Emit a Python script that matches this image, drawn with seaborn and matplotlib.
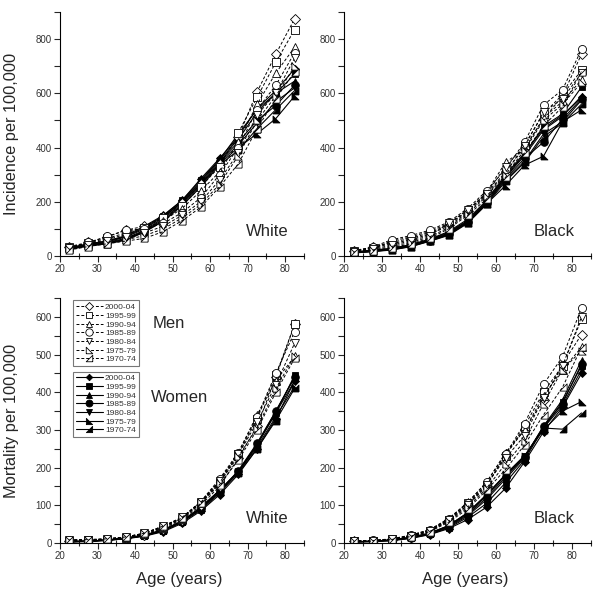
import matplotlib
matplotlib.use("Agg")
import matplotlib.pyplot as plt
from matplotlib.lines import Line2D
from matplotlib.ticker import MultipleLocator
import seaborn as sns
import pandas as pd

ages = [22.5, 27.5, 32.5, 37.5, 42.5, 47.5, 52.5, 57.5, 62.5, 67.5, 72.5, 77.5, 82.5]
periods = ["2000-04", "1995-99", "1990-94", "1985-89", "1980-84", "1975-79", "1970-74"]

# White incidence
white_inc_men = [
    [35, 50, 70, 95, 110, 145, 195, 265, 340, 440, 605, 745, 875],
    [33, 48, 65, 85, 105, 140, 185, 255, 330, 455, 585, 715, 835],
    [32, 45, 60, 80, 100, 130, 175, 240, 310, 420, 560, 675, 770],
    [30, 50, 72, 95, 100, 120, 160, 215, 300, 400, 540, 630, 750],
    [28, 42, 55, 70, 85, 110, 150, 200, 280, 380, 520, 600, 730],
    [25, 38, 50, 60, 75, 100, 140, 190, 265, 370, 500, 590, 700],
    [22, 35, 45, 55, 65, 90, 130, 180, 255, 340, 470, 580, 680],
]
white_inc_women = [
    [30, 45, 55, 75, 110, 150, 205, 285, 360, 440, 545, 610, 690],
    [30, 44, 55, 72, 105, 148, 205, 280, 355, 450, 540, 600, 670],
    [28, 42, 52, 70, 100, 145, 200, 275, 355, 430, 530, 600, 645],
    [28, 40, 50, 65, 95, 140, 200, 270, 350, 420, 500, 555, 630],
    [27, 40, 48, 62, 92, 135, 195, 265, 345, 410, 490, 570, 620],
    [26, 38, 46, 60, 90, 130, 190, 260, 340, 400, 451, 507, 590],
    [25, 36, 45, 58, 88, 128, 185, 255, 335, 390, 470, 540, 610],
]
# Black incidence
black_inc_men = [
    [20, 32, 50, 65, 85, 115, 165, 230, 310, 400, 505, 590, 745],
    [18, 30, 45, 60, 80, 110, 160, 225, 305, 410, 525, 595, 685],
    [17, 28, 55, 70, 90, 120, 165, 235, 345, 395, 510, 570, 650],
    [18, 33, 60, 75, 95, 125, 175, 240, 320, 420, 557, 613, 762],
    [15, 25, 40, 55, 75, 120, 170, 230, 330, 405, 530, 580, 675],
    [14, 22, 35, 50, 70, 105, 155, 220, 300, 390, 500, 560, 640],
    [13, 20, 30, 45, 65, 100, 150, 210, 290, 380, 480, 550, 680],
]
black_inc_women = [
    [15, 22, 28, 42, 62, 90, 135, 205, 300, 380, 470, 520, 585],
    [14, 20, 27, 40, 60, 88, 130, 200, 295, 375, 478, 524, 623],
    [13, 19, 26, 38, 58, 85, 128, 198, 290, 370, 465, 515, 590],
    [13, 18, 25, 37, 57, 82, 125, 195, 285, 360, 420, 505, 580],
    [12, 17, 24, 36, 56, 80, 125, 195, 280, 350, 450, 495, 575],
    [12, 17, 23, 35, 55, 78, 122, 192, 260, 335, 368, 495, 539],
    [11, 16, 22, 34, 54, 76, 120, 190, 275, 345, 440, 490, 560],
]
# White mortality
white_mort_men = [
    [5, 6, 8, 13, 22, 38, 62, 100, 150, 225, 310, 440, 580],
    [6, 7, 9, 14, 23, 40, 64, 105, 160, 235, 330, 445, 580],
    [7, 8, 10, 15, 25, 42, 66, 108, 165, 240, 340, 430, 495],
    [7, 8, 10, 15, 25, 43, 67, 110, 170, 240, 335, 450, 560],
    [8, 8, 11, 16, 26, 44, 68, 110, 165, 235, 320, 420, 530],
    [8, 9, 11, 16, 26, 45, 68, 108, 160, 230, 305, 410, 497],
    [8, 9, 11, 16, 26, 45, 66, 105, 155, 220, 300, 400, 490],
]
white_mort_women = [
    [3, 4, 7, 11, 18, 30, 52, 85, 128, 182, 250, 330, 430],
    [3, 4, 7, 12, 19, 32, 55, 88, 132, 188, 260, 345, 445],
    [3, 5, 7, 12, 19, 33, 56, 90, 135, 190, 262, 350, 440],
    [3, 5, 8, 12, 20, 34, 57, 92, 138, 192, 265, 350, 440],
    [4, 5, 8, 13, 20, 34, 58, 93, 140, 190, 262, 345, 430],
    [4, 5, 8, 13, 21, 35, 58, 95, 140, 188, 255, 335, 415],
    [4, 5, 8, 13, 21, 35, 58, 95, 138, 185, 250, 325, 410],
]
# Black mortality
black_mort_men = [
    [5, 6, 9, 18, 32, 60, 100, 150, 235, 300, 380, 475, 553],
    [5, 6, 10, 19, 33, 62, 105, 155, 230, 310, 400, 470, 594],
    [5, 6, 10, 20, 35, 63, 108, 160, 240, 300, 390, 460, 519],
    [5, 7, 11, 21, 35, 65, 106, 162, 235, 317, 421, 494, 623],
    [4, 6, 10, 19, 33, 60, 100, 155, 225, 285, 385, 470, 600],
    [4, 6, 9, 18, 30, 58, 95, 145, 210, 270, 370, 460, 510],
    [4, 5, 9, 17, 30, 55, 90, 140, 195, 260, 340, 413, 519],
]
black_mort_women = [
    [3, 4, 6, 12, 22, 38, 62, 95, 145, 215, 295, 360, 450],
    [3, 4, 7, 13, 23, 40, 68, 105, 160, 220, 305, 375, 470],
    [3, 4, 7, 13, 24, 42, 72, 115, 170, 225, 310, 380, 485],
    [3, 4, 7, 14, 25, 44, 75, 120, 175, 228, 310, 370, 475],
    [3, 5, 8, 14, 25, 45, 78, 125, 180, 230, 305, 365, 460],
    [3, 5, 8, 15, 26, 46, 80, 128, 182, 232, 300, 350, 375],
    [3, 5, 8, 15, 26, 46, 80, 128, 180, 230, 305, 302, 345],
]

sns.set_style("ticks")
plt.rcParams["font.family"] = ["Liberation Sans", "DejaVu Sans"]

tri_bl = [(-1, -1), (-1, 1), (1, -1), (-1, -1)]
tri_br = [(1, -1), (1, 1), (-1, -1), (1, -1)]
markers = ["D", "s", "^", "o", "v", tri_bl, tri_br]
msizes_men = [4.8, 5.2, 5.2, 5.8, 5.2, 5.2, 5.2]
msizes_women = [3.8, 5, 5, 5.5, 5, 5, 5]

fig = plt.figure(figsize=(6.0, 5.9), dpi=100)
W, H = 600, 590
def add_ax(x0, x1, ytop, ybot):
    return fig.add_axes([x0 / W, (H - ybot) / H, (x1 - x0) / W, (ybot - ytop) / H])

ax_tl = add_ax(60, 304, 12, 256)
ax_tr = add_ax(344, 591, 12, 256)
ax_bl = add_ax(60, 304, 298, 543)
ax_br = add_ax(344, 591, 298, 543)

panels = [
    (ax_tl, white_inc_men, white_inc_women, 900, 200, 100, "White"),
    (ax_tr, black_inc_men, black_inc_women, 900, 200, 100, "Black"),
    (ax_bl, white_mort_men, white_mort_women, 650, 100, 50, "White"),
    (ax_br, black_mort_men, black_mort_women, 650, 100, 50, "Black"),
]

for ax, men, women, ymax, ymaj, ymin_, race in panels:
    for i, p in enumerate(periods):
        df = pd.DataFrame({"age": ages, "rate": women[i]})
        sns.lineplot(data=df, x="age", y="rate", ax=ax, color="black", lw=0.8,
                     marker=markers[i], markersize=msizes_women[i],
                     markerfacecolor="black", markeredgecolor="black",
                     markeredgewidth=0.6, linestyle="-")
    for i, p in enumerate(periods):
        df = pd.DataFrame({"age": ages, "rate": men[i]})
        sns.lineplot(data=df, x="age", y="rate", ax=ax, color="black", lw=0.7,
                     marker=markers[i], markersize=msizes_men[i],
                     markerfacecolor="white", markeredgecolor="black",
                     markeredgewidth=0.6, linestyle=(0, (3, 2)))
    ax.set_xlim(20, 85)
    ax.set_ylim(0, ymax)
    ax.xaxis.set_major_locator(MultipleLocator(10))
    ax.xaxis.set_minor_locator(MultipleLocator(5))
    ax.yaxis.set_major_locator(MultipleLocator(ymaj))
    ax.yaxis.set_minor_locator(MultipleLocator(ymin_))
    ax.tick_params(axis="both", which="major", labelsize=7, length=4, width=0.8,
                   direction="out", labelcolor="#333333", pad=2)
    ax.tick_params(axis="x", which="minor", length=5, width=0.8, direction="inout")
    ax.tick_params(axis="y", which="minor", length=4, width=0.8, direction="out")
    sns.despine(ax=ax)
    for s in ("left", "bottom"):
        ax.spines[s].set_linewidth(0.8)
        ax.spines[s].set_color("black")
    ax.set_xlabel("")
    ax.set_ylabel("")
    ax.text(0.85, 0.10, race, transform=ax.transAxes, ha="center", va="center",
            fontsize=12)

ax_tl.set_ylabel("Incidence per 100,000", fontsize=11.8)
ax_tl.yaxis.set_label_coords(-0.17, 0.5)
ax_bl.set_ylabel("Mortality per 100,000", fontsize=11.8)
ax_bl.yaxis.set_label_coords(-0.17, 0.5)
for ax in (ax_bl, ax_br):
    ax.set_xlabel("Age (years)", fontsize=12)
    ax.xaxis.set_label_coords(0.49, -0.12)

ax_bl.text(0.445, 0.895, "Men", transform=ax_bl.transAxes, ha="center", va="center", fontsize=12)
ax_bl.text(0.49, 0.592, "Women", transform=ax_bl.transAxes, ha="center", va="center", fontsize=12)

men_handles = [Line2D([], [], color="black", lw=0.7, linestyle=(0, (3, 2)),
                      marker=markers[i], markersize=msizes_men[i] - 0.5,
                      markerfacecolor="white", markeredgecolor="black",
                      markeredgewidth=0.6) for i in range(7)]
women_handles = [Line2D([], [], color="black", lw=0.8, linestyle="-",
                        marker=markers[i], markersize=msizes_women[i] - 0.5,
                        markerfacecolor="black", markeredgecolor="black",
                        markeredgewidth=0.6) for i in range(7)]

leg_kw = dict(fontsize=6, frameon=True, fancybox=False, handlelength=3.2,
              handletextpad=0.3, labelspacing=0.1, borderpad=0.35,
              borderaxespad=0, markerscale=1.0)
leg1 = ax_bl.legend(men_handles, periods, loc="upper left",
                    bbox_to_anchor=(0.053, 0.99), **leg_kw)
leg1.get_frame().set_edgecolor("#555555")
leg1.get_frame().set_linewidth(0.8)
ax_bl.add_artist(leg1)
leg2 = ax_bl.legend(women_handles, periods, loc="upper left",
                    bbox_to_anchor=(0.053, 0.70), **leg_kw)
leg2.get_frame().set_edgecolor("#555555")
leg2.get_frame().set_linewidth(0.8)
for lg in (leg1, leg2):
    for t in lg.get_texts():
        t.set_color("#333333")

fig.savefig("out.png", dpi=100)
